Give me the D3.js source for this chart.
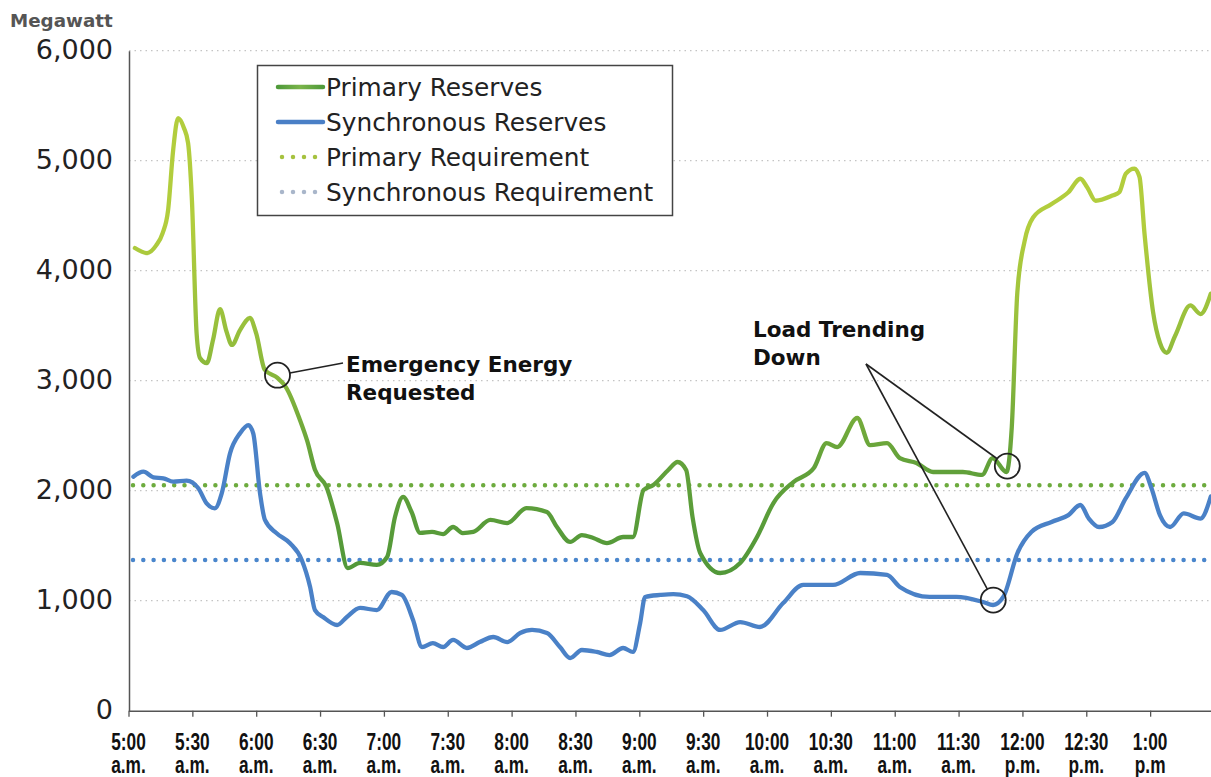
<!DOCTYPE html>
<html><head><meta charset="utf-8">
<script src="https://cdn.jsdelivr.net/npm/d3@7"></script>
<style>body{margin:0;background:#fff}svg{display:block}</style>
</head><body>
<svg id="c" width="1211" height="777"></svg>
<script>
// Minutes after 5:00 a.m. and megawatt values
const primaryMinutes = [3,8.7,13,16,18.6,21,23.3,26,28,29.8,32,33.6,36.8,39.7,43,46,48.6,52.4,57,60,64,70,74,80.6,84,87.6,93,98,103,108.8,116.7,121.5,125.2,129,133,137,142.6,147.8,152.5,157,162,170,177.9,187,196.6,201.3,207.5,213,218.4,224.8,232.4,237,242,246.6,253.6,258,262,265,268.6,278,287.4,295.3,303,312.4,322,328,333,342.4,348.4,356.4,362.4,370.2,378,392,401,406,412.5,415,417.6,421,425,433.7,441.6,447.2,450.4,454.4,462.3,465.5,468.6,472.6,475,477.4,481.4,484.6,487.8,491.7,498.9,503.7,508.5];
const primaryMW = [4206,4160,4230,4340,4550,5100,5387,5300,5160,4640,3430,3206,3160,3370,3650,3450,3325,3460,3570,3430,3100,3025,2940,2640,2450,2190,2035,1706,1297,1343,1325,1397,1761,1943,1806,1616,1625,1606,1670,1615,1625,1734,1706,1842,1806,1670,1534,1597,1570,1524,1579,1579,2006,2052,2188,2261,2188,1761,1434,1252,1343,1579,1888,2079,2206,2433,2397,2661,2415,2433,2297,2252,2170,2170,2143,2297,2170,2579,3800,4267,4483,4606,4713,4836,4759,4636,4683,4713,4882,4928,4852,4329,3622,3345,3254,3407,3684,3606,3791];
const syncMinutes = [2.3,7,11.7,16.4,21,27.3,32.8,36.7,40.6,43.8,47.7,52.4,56.3,58.6,61.8,64.1,69.6,75.9,81.4,85.3,87.6,91.4,98,102.6,108.8,116.7,123.6,128.4,133.7,137.9,143,147.8,152.5,159,165,171.4,178,184,189.6,196.6,202.7,207.5,213,220,226,232.4,237,240.4,242.7,249.8,256,262.4,270,278,287.4,296.7,307.6,317,331,343.8,356.4,362.4,376.4,389,401.5,406.2,411,417.8,424.2,433.7,441.6,447.2,451.2,456,462.3,468.6,477.4,480.6,484.6,489.4,495.8,503.7,508.5];
const syncMW = [2127,2173,2122,2113,2082,2091,2022,1885,1840,1976,2340,2522,2597,2522,1976,1734,1613,1522,1370,1127,915,852,779,852,934,915,1079,1052,824,579,615,579,643,570,624,670,624,706,734,706,579,479,552,534,506,570,534,797,1034,1052,1060,1040,915,734,806,761,979,1143,1143,1252,1234,1125,1034,1034,988,961,1034,1440,1625,1716,1778,1870,1747,1670,1716,1932,2162,2025,1778,1670,1794,1747,1947];
const primaryRequirement = 2050;
const syncRequirement = 1370;

const yTicks = [0,1000,2000,3000,4000,5000,6000];
const xTickMinutes = [0,30,60,90,120,150,180,210,240,270,300,330,360,390,420,450,480];
const xTickTop = ["5:00","5:30","6:00","6:30","7:00","7:30","8:00","8:30","9:00","9:30","10:00","10:30","11:00","11:30","12:00","12:30","1:00"];
const xTickBottom = ["a.m.","a.m.","a.m.","a.m.","a.m.","a.m.","a.m.","a.m.","a.m.","a.m.","a.m.","a.m.","a.m.","a.m.","p.m.","p.m.","p.m"];
const legendLabels = ["Primary Reserves","Synchronous Reserves","Primary Requirement","Synchronous Requirement"];

const svg = d3.select("#c");
const x = d3.scaleLinear().domain([0,508.6]).range([128.5,1211]);
const y = d3.scaleLinear().domain([0,6000]).range([710.7,50.7]);
const FONT = "'DejaVu Sans', sans-serif";

// gradient for primary line
const defs = svg.append("defs");
const grad = defs.append("linearGradient").attr("id","gGreen")
  .attr("gradientUnits","userSpaceOnUse").attr("x1",0).attr("x2",0)
  .attr("y1",y(4400)).attr("y2",y(1300));
[[0,"#b2cd3d"],[0.35,"#93bd3c"],[0.7,"#62a13a"],[1,"#529839"]].forEach(s=>
  grad.append("stop").attr("offset",s[0]).attr("stop-color",s[1]));
const lg = defs.append("linearGradient").attr("id","gLeg").attr("x1",0).attr("x2",1);
[[0,"#4f9a3a"],[0.5,"#7ab44a"],[1,"#4f9a3a"]].forEach(s=>
  lg.append("stop").attr("offset",s[0]).attr("stop-color",s[1]));

// gridlines
svg.append("g").selectAll("line").data(yTicks.filter(d=>d>0)).join("line")
  .attr("x1",129).attr("x2",1211).attr("y1",d=>y(d)).attr("y2",d=>y(d))
  .attr("stroke","#c4c4c4").attr("stroke-width",1.3).attr("stroke-dasharray","1.5,4");

// y axis
const ya = svg.append("g").attr("transform","translate(129,0)")
  .call(d3.axisLeft(y).tickValues(yTicks).tickSize(0).tickPadding(16).tickFormat(d3.format(",")));
ya.select(".domain").attr("stroke","#555").attr("stroke-width",1.5);
ya.selectAll("text").attr("font-family",FONT).attr("font-size",27).attr("fill","#222").attr("dy","0.3em");

// x axis
const xa = svg.append("g").attr("transform",`translate(0,${y(0)})`)
  .call(d3.axisBottom(x).tickValues(xTickMinutes).tickSize(6).tickSizeOuter(0).tickFormat(""));
xa.select(".domain").attr("stroke","#555").attr("stroke-width",1.5);
xa.selectAll(".tick line").attr("stroke","#555").attr("stroke-width",1.3);
const xl = svg.append("g").attr("font-family","'Liberation Sans', Arial, sans-serif")
  .attr("font-weight","bold").attr("font-size",24).attr("fill","#111").attr("text-anchor","middle");
const xt = xl.selectAll("text").data(xTickMinutes).join("text")
  .attr("transform",d=>`translate(${x(d)},750) scale(0.72,1)`);
xt.append("tspan").attr("x",0).attr("y",0).text((d,i)=>xTickTop[i]);
xt.append("tspan").attr("x",0).attr("y",23).text((d,i)=>xTickBottom[i]);

// Megawatt label
svg.append("text").attr("x",10).attr("y",27).attr("font-family",FONT).attr("font-weight","bold")
  .attr("font-size",18.3).attr("fill","#555").text("Megawatt");

// requirement lines
svg.append("line").attr("x1",133).attr("x2",1211).attr("y1",y(primaryRequirement)).attr("y2",y(primaryRequirement))
  .attr("stroke","#6dab3e").attr("stroke-width",4.5).attr("stroke-linecap","round").attr("stroke-dasharray","0,10.3");
svg.append("line").attr("x1",133).attr("x2",1211).attr("y1",y(syncRequirement)).attr("y2",y(syncRequirement))
  .attr("stroke","#4a86cc").attr("stroke-width",4.5).attr("stroke-linecap","round").attr("stroke-dasharray","0,10.3");

// series lines
const line = d3.line().x(d=>x(d[0])).y(d=>y(d[1])).curve(d3.curveMonotoneX);
svg.append("path").datum(syncMinutes.map((t,i)=>[t,syncMW[i]])).attr("d",line)
  .attr("fill","none").attr("stroke","#4a81c7").attr("stroke-width",4.3).attr("stroke-linejoin","round").attr("stroke-linecap","round");
svg.append("path").datum(primaryMinutes.map((t,i)=>[t,primaryMW[i]])).attr("d",line)
  .attr("fill","none").attr("stroke","url(#gGreen)").attr("stroke-width",4.3).attr("stroke-linejoin","round").attr("stroke-linecap","round");

// legend
const leg = svg.append("g");
leg.append("rect").attr("x",257.5).attr("y",65.5).attr("width",415).attr("height",150)
  .attr("fill","#fff").attr("stroke","#444").attr("stroke-width",1.5);
const rowsY = [87,122,157,192];
const legStyles = [
  {stroke:"url(#gLeg)",dash:null},
  {stroke:"#4a7fc6",dash:null},
  {stroke:"#a6c23f",dash:"0,11"},
  {stroke:"#a9b6ca",dash:"0,11"}
];
legendLabels.forEach((lab,i)=>{
  const ln = leg.append("line").attr("x1",i<2?278:282).attr("x2",i<2?323:318).attr("y1",rowsY[i]).attr("y2",rowsY[i]+0.01)
    .attr("stroke",legStyles[i].stroke).attr("stroke-width",4.5).attr("stroke-linecap","round");
  if(legStyles[i].dash) ln.attr("stroke-dasharray",legStyles[i].dash);
  leg.append("text").attr("x",326).attr("y",rowsY[i]).attr("dy","0.36em").attr("font-family",FONT)
    .attr("font-size",24.8).attr("fill","#222").text(lab);
});

// annotations
const ann = svg.append("g").attr("font-family",FONT).attr("font-weight","bold").attr("font-size",21.5).attr("fill","#111");
function circ(cx,cy,r){ svg.append("circle").attr("cx",cx).attr("cy",cy).attr("r",r)
  .attr("fill","none").attr("stroke","#222").attr("stroke-width",1.8); }
function edge(cx,cy,r,ax,ay){ const dx=ax-cx, dy=ay-cy, L=Math.hypot(dx,dy); return [cx+r*dx/L, cy+r*dy/L]; }
function seg(p,q){ svg.append("line").attr("x1",p[0]).attr("y1",p[1]).attr("x2",q[0]).attr("y2",q[1])
  .attr("stroke","#222").attr("stroke-width",1.6); }

const e = [x(70), y(3050)];
circ(e[0],e[1],12.5);
seg(edge(e[0],e[1],12.5,343,363),[343,363]);
const t1 = ann.append("text").attr("x",346).attr("y",371.5);
t1.append("tspan").attr("x",346).attr("y",371.5).text("Emergency Energy");
t1.append("tspan").attr("x",346).attr("y",400).text("Requested");

const apex = [866,364];
const c1 = [x(412.9), y(2224)], c2 = [x(406.3), y(1006)];
circ(c1[0],c1[1],12.5); circ(c2[0],c2[1],12.5);
seg(apex, edge(c1[0],c1[1],12.5,apex[0],apex[1]));
seg(apex, edge(c2[0],c2[1],12.5,apex[0],apex[1]));
const t2 = ann.append("text").attr("x",753).attr("y",337);
t2.append("tspan").attr("x",753).attr("y",337).text("Load Trending");
t2.append("tspan").attr("x",753).attr("y",365).text("Down");
</script>
</body></html>
